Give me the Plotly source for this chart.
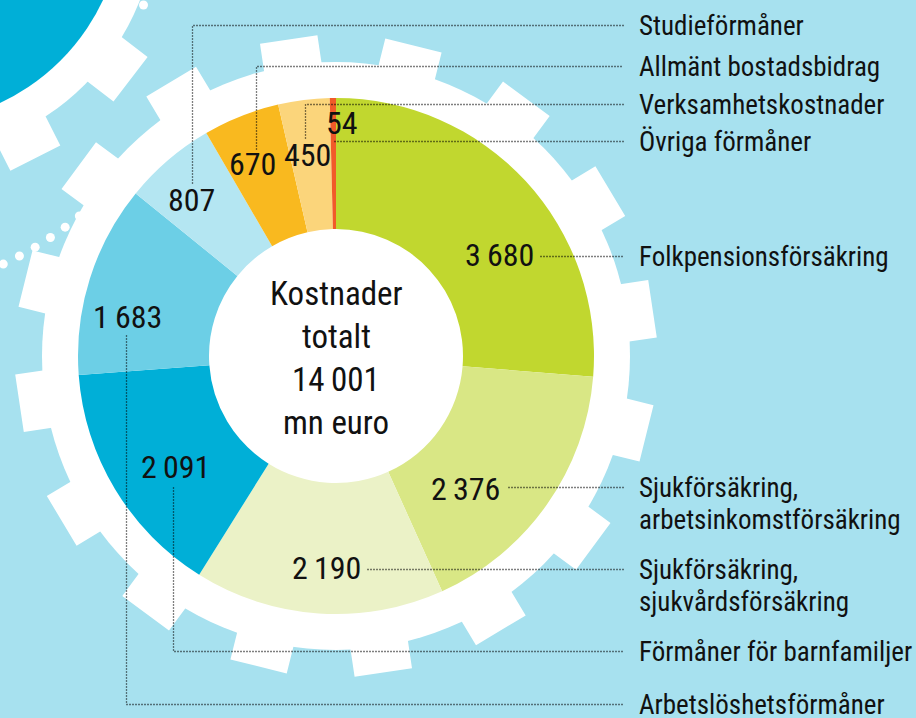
import numpy as np
import plotly.graph_objects as go

# ---------------- data ----------------
categories = [
    "Folkpensionsförsäkring",
    "Sjukförsäkring,\narbetsinkomstförsäkring",
    "Sjukförsäkring,\nsjukvårdsförsäkring",
    "Förmåner för barnfamiljer",
    "Arbetslöshetsförmåner",
    "Studieförmåner",
    "Allmänt bostadsbidrag",
    "Verksamhetskostnader",
    "Övriga förmåner",
]
values = [3680, 2376, 2190, 2091, 1683, 807, 670, 450, 54]
center_words = ["Kostnader", "totalt"]
unit = "mn euro"

# ---------------- style / layout ----------------
colors = ["#C1D72F", "#D9E785", "#EBF2C7", "#00AFD7", "#6CCFE6",
          "#B4E6F2", "#F9B91F", "#FBD57B", "#F15A29"]
BG = "#A7E1EF"
WHITE = "#FFFFFF"
FONT = "Roboto Condensed, Liberation Sans Narrow, sans-serif"
INK = "#111111"

W, H = 916, 718
CX, CY = 336, 356
R_OUT, R_IN = 258, 127

# number label centres and leader routes (pixel layout)
num_pos = [(499, 255), (465, 489), (326, 568), (175, 467), (127, 317),
           (191, 200), (252, 164), (307, 155), (342, 123)]
leaders = [
    [(540, 256), (623, 256)],
    [(508, 487), (623, 487)],
    [(367, 569), (623, 569)],
    [(173, 487), (173, 651), (623, 651)],
    [(126, 335), (126, 704), (623, 704)],
    [(192, 183), (192, 25), (623, 25)],
    [(256, 149), (256, 66), (623, 66)],
    [(305, 138), (305, 104), (623, 104)],
    [(334, 141), (623, 141)],
]
LABEL_X = 637
LINE_GAP = 32


def fmt(v):
    s = f"{v:,}"
    return s.replace(",", "\u2009")


def rect_path(cx, cy, ux, uy, r0, r1, w):
    vx, vy = -uy, ux
    pts = [
        (cx + r0 * ux - w / 2 * vx, cy + r0 * uy - w / 2 * vy),
        (cx + r1 * ux - w / 2 * vx, cy + r1 * uy - w / 2 * vy),
        (cx + r1 * ux + w / 2 * vx, cy + r1 * uy + w / 2 * vy),
        (cx + r0 * ux + w / 2 * vx, cy + r0 * uy + w / 2 * vy),
    ]
    return "M " + " L ".join(f"{x:.1f},{y:.1f}" for x, y in pts) + " Z"


shapes = []

# --- top-left decorative gear ---
g2x, g2y = -90, -90
teeth2 = " ".join(
    rect_path(g2x, g2y, np.cos(np.radians(a)), np.sin(np.radians(a)), 230, 278, 56)
    for a in 37.5 + 25.7 * np.arange(-2, 5)
)
shapes.append(dict(type="path", path=teeth2, fillcolor=WHITE, line_width=0, layer="below"))
shapes.append(dict(type="circle", x0=g2x - 247, x1=g2x + 247, y0=g2y - 247, y1=g2y + 247,
                   fillcolor=WHITE, line_width=0, layer="below"))
shapes.append(dict(type="circle", x0=g2x - 213, x1=g2x + 213, y0=g2y - 213, y1=g2y + 213,
                   fillcolor="#00AFD7", line_width=0, layer="below"))

# dotted arc of white dots
dcx, dcy, dr = -149, -61, 359
for a in np.linspace(64.9, 50.5, 6).tolist() + [67.8, 47.6]:
    x = dcx + dr * np.cos(np.radians(a))
    y = dcy + dr * np.sin(np.radians(a))
    shapes.append(dict(type="circle", x0=x - 4.5, x1=x + 4.5, y0=y - 4.5, y1=y + 4.5,
                       fillcolor=WHITE, line_width=0, layer="below"))
shapes.append(dict(type="circle", x0=139, x1=148, y0=0.5, y1=9.5,
                   fillcolor=WHITE, line_width=0, layer="below"))

# --- main gear behind the donut ---
teeth = " ".join(
    rect_path(CX, CY, np.sin(np.radians(t)), -np.cos(np.radians(t)), 280, 320, 58)
    for t in 14 + 22.5 * np.arange(16)
)
shapes.append(dict(type="path", path=teeth, fillcolor=WHITE, line_width=0, layer="below"))
shapes.append(dict(type="circle", x0=CX - 294, x1=CX + 294, y0=CY - 294, y1=CY + 294,
                   fillcolor=WHITE, line_width=0, layer="below"))

# --- leader lines (half-pixel offsets for crisp dots) ---
for route in leaders:
    p = "M " + " L ".join(f"{x + 0.5},{y + 0.5}" for x, y in route)
    shapes.append(dict(type="path", path=p, line=dict(color="#000000", width=1.3, dash="1px,2px"),
                       layer="above"))

fig = go.Figure()
fig.add_trace(go.Scatter(x=[0, W], y=[0, H], mode="markers", marker=dict(opacity=0),
                         hoverinfo="skip", showlegend=False))
fig.add_trace(go.Pie(
    values=values, labels=[c.replace("\n", " ") for c in categories],
    marker=dict(colors=colors, line=dict(width=0)),
    hole=R_IN / R_OUT, sort=False, direction="clockwise", rotation=0,
    textinfo="none", hoverinfo="skip", showlegend=False,
    domain=dict(x=[(CX - R_OUT) / W, (CX + R_OUT) / W],
                y=[(H - CY - R_OUT) / H, (H - CY + R_OUT) / H]),
))

annotations = []
for v, (x, y) in zip(values, num_pos):
    annotations.append(dict(x=x, y=y, xref="x", yref="y", text=fmt(v), showarrow=False,
                            xanchor="center", yanchor="middle",
                            font=dict(family=FONT, size=32, color=INK)))
for cat, route in zip(categories, leaders):
    ly = route[-1][1]
    for i, line in enumerate(cat.split("\n")):
        annotations.append(dict(x=LABEL_X, y=ly + 1 + i * LINE_GAP, xref="x", yref="y",
                                text=line, showarrow=False, xanchor="left", yanchor="middle",
                                font=dict(family=FONT, size=27, color=INK)))
center_lines = center_words + [fmt(sum(values)), unit]
for i, line in enumerate(center_lines):
    annotations.append(dict(x=CX, y=CY - 63 + i * 43, xref="x", yref="y", text=line,
                            showarrow=False, xanchor="center", yanchor="middle",
                            font=dict(family=FONT, size=33, color=INK)))

fig.update_layout(
    width=W, height=H, margin=dict(l=0, r=0, t=0, b=0),
    paper_bgcolor=BG, plot_bgcolor=BG,
    xaxis=dict(range=[0, W], visible=False, fixedrange=True),
    yaxis=dict(range=[H, 0], visible=False, fixedrange=True),
    shapes=shapes, annotations=annotations, showlegend=False,
)
fig.write_html("out.html", config={"displayModeBar": False},
               post_script="document.body.style.margin='0px';")
